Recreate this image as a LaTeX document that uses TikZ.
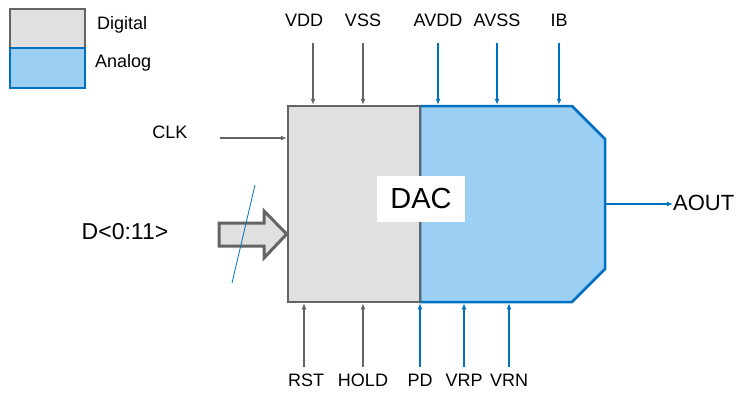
\documentclass[tikz,border=0pt]{standalone}
\usepackage{fontspec}
\setmainfont{Liberation Sans}
\usetikzlibrary{arrows.meta,positioning}
\definecolor{diggray}{RGB}{100,100,100}
\definecolor{digfill}{RGB}{224,224,224}
\definecolor{anablue}{RGB}{0,112,192}
\definecolor{anafill}{RGB}{155,207,243}
\tikzset{
  pin/.style={font=\fontsize{18}{21}\selectfont, inner sep=0pt},
  sigd/.style={diggray, line width=1.2pt, -{Latex[length=6pt,width=5pt]}},
  siga/.style={anablue, line width=1.3pt, -{Latex[length=6pt,width=5pt]}}
}
\begin{document}
\begin{tikzpicture}[x=1pt,y=-1pt]
		\useasboundingbox (0,0) rectangle (736,392);
		
		%Legend
		\draw[diggray, fill=digfill, line width=2.5pt] (10,9) rectangle (85,48);
		\draw[anablue, fill=anafill, line width=2.5pt] (10,48) rectangle (85,88);
		\node[pin, anchor=west] (lgdig) at (97,25) {Digital};
		\node[pin, anchor=west] (lgana) at (95,63) {Analog};
		
		%Blocks
		\draw[anablue, fill=anafill, line width=2.5pt]
		(420,106) -- (572,106) -- (605,139) -- (605,269) -- (572,302) -- (420,302) -- cycle;
		\node[draw=diggray, fill=digfill, line width=2.5pt, minimum width=132pt, minimum height=196pt, inner sep=0pt] (dig) at (354,204) {};
		\coordinate (ana-e) at (605,204);
		\node[fill=white, minimum width=88pt, minimum height=46pt, font=\fontsize{29}{34}\selectfont] (dac) at (421,199) {DAC};
		
		%Top pins
		\node[pin] (vdd) at (304,20) {VDD};
		\node[pin] (vss) at (363,20) {VSS};
		\node[pin] (avdd) at (438,20) {AVDD};
		\node[pin] (avss) at (497,20) {AVSS};
		\node[pin] (ib) at (559,20) {IB};
		\coordinate (vdd-s) at (313,43);
		\draw[sigd] (vdd-s) -- (vdd-s |- dig.north);
		\draw[sigd] (vss |- 0,43) -- (vss |- dig.north);
		\foreach \p in {avdd,avss,ib} \draw[siga] (\p |- 0,43) -- (\p |- dig.north);
		
		%Bottom pins
		\node[pin] (rst) at (306,380) {RST};
		\node[pin] (hold) at (363,380) {HOLD};
		\node[pin] (pd) at (420,380) {PD};
		\node[pin] (vrp) at (464,380) {VRP};
		\node[pin] (vrn) at (509,380) {VRN};
		\coordinate (rst-s) at (304,367);
		\draw[sigd] (rst-s) -- (rst-s |- dig.south);
		\draw[sigd] (hold |- 0,367) -- (hold |- dig.south);
		\foreach \p in {pd,vrp,vrn} \draw[siga] (\p |- 0,367) -- (\p |- dig.south);
		
		%Clock and data
		\node[pin] (clk) at (170,132) {CLK};
		\coordinate (clk-s) at (220,138);
		\draw[sigd] (clk-s) -- (clk-s -| dig.west);
		\node[font=\fontsize{23}{27}\selectfont, inner sep=0pt] (din) at (125,232) {D<0:11>};
		\draw[diggray, fill=digfill, line width=3pt, line join=miter]
		(219,223) -- (264,223) -- (264,211) -- (dig.west |- 0,234) -- (264,258) -- (264,246) -- (219,246) -- cycle;
		\draw[anablue, line width=0.8pt] (255,185) -- (232,283);
		
		%Output
		\node[font=\fontsize{22}{26}\selectfont, inner sep=0pt, anchor=west] (aout) at (673,203) {AOUT};
		\draw[siga] (ana-e) -- (aout.west |- ana-e);
		
	\end{tikzpicture}
\end{document}
